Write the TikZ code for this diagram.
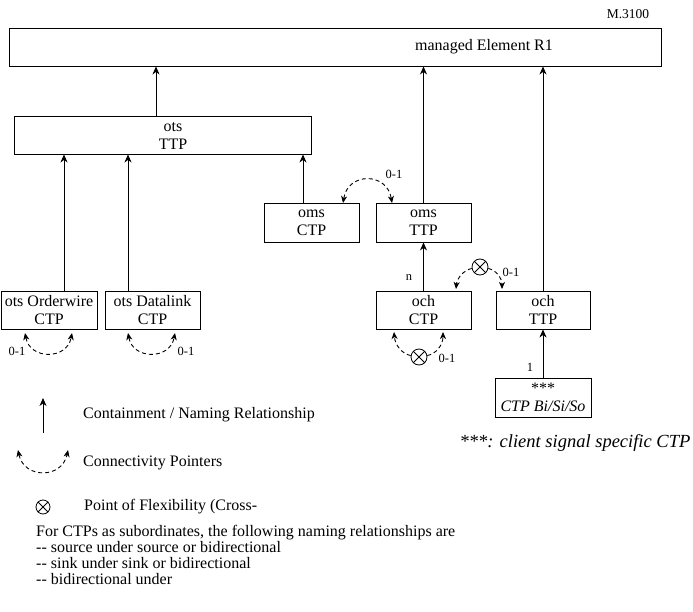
\documentclass[tikz,border=0pt]{standalone}
\usepackage{fontspec}
\setmainfont{Liberation Serif}
\usetikzlibrary{arrows.meta}
\newcommand{\fsz}[2]{\fontsize{#1}{#2}\selectfont}
\begin{document}
\begin{tikzpicture}[x=1pt,y=-1pt,
  box/.style={draw,line width=0.9pt,inner sep=0pt,align=center,font=\fsz{16}{18}},
  boxtext/.style={inner sep=0pt,align=center,font=\fsz{16}{18}},
  cont/.style={line width=0.9pt,-{Stealth[length=8pt,width=7pt,inset=2.5pt]}},
  conn/.style={line width=0.9pt,dash pattern=on 4pt off 3pt,{Stealth[length=7pt,width=6pt,inset=2pt]}-{Stealth[length=7pt,width=6pt,inset=2pt]}},
  conn1/.style={line width=0.9pt,dash pattern=on 4pt off 3pt,-{Stealth[length=7pt,width=6pt,inset=2pt]}},
  pof/.style={circle,draw,line width=0.8pt,minimum size=16pt,inner sep=0pt},
  lbl/.style={font=\fsz{12.5}{14},inner sep=0pt},
  txt/.style={font=\fsz{16}{18},inner sep=0pt,anchor=west}
]
\useasboundingbox (0,0) rectangle (693,612);

% boxes
\node[box,minimum width=652pt,minimum height=38pt] (me) at (335,47) {};
\node[boxtext] (metxt) at (484,47) {managed Element R1};
\node[box,minimum width=297pt,minimum height=38pt] (ottp) at (162.5,135) {};
\node[boxtext] (ottpt) at (173,136) {ots\\TTP};
\node[box,minimum width=96pt,minimum height=38pt] (ow) at (49,310) {ots Orderwire\\CTP};
\node[box,minimum width=95pt,minimum height=38pt] (dl) at (152.5,310) {ots Datalink\\CTP};
\node[box,minimum width=95pt,minimum height=39pt] (omsc) at (311.5,222.5) {oms\\CTP};
\node[box,minimum width=95pt,minimum height=39pt] (omst) at (423.5,222.5) {oms\\TTP};
\node[box,minimum width=95pt,minimum height=38pt] (ochc) at (423.5,310) {och\\CTP};
\node[box,minimum width=94pt,minimum height=38pt] (ocht) at (543,310) {och\\TTP};
\node[box,minimum width=96pt,minimum height=39pt] (cli) at (543,397.5) {***\\\textit{CTP Bi/Si/So}};

% containment arrows
\draw[cont] (ottp.north -| 156,0) -- (me.south -| 156,0);
\draw[cont] (ow.north -| 64,0) -- (ottp.south -| 64,0);
\draw[cont] (dl.north -| 128,0) -- (ottp.south -| 128,0);
\draw[cont] (omsc.north -| 303,0) -- (ottp.south -| 303,0);
\draw[cont] (omst.north) -- (me.south -| omst.north);
\draw[cont] (ochc.north) -- (omst.south);
\draw[cont] (ocht.north) -- (me.south -| ocht.north);
\draw[cont] (cli.north) -- (ocht.south);
\node[lbl] (ln) at (409,278) {n};
\node[lbl] (l1) at (530,367) {1};

% connectivity pointers
\coordinate (oa) at (343,203);
\coordinate (ob) at (392,203);
\draw[conn] (oa) .. controls (348,172) and (387,172) .. (ob);
\node[lbl] (l01a) at (394,174) {0-1};

\coordinate (wa) at (25,333);
\coordinate (wb) at (72,333);
\draw[conn] (wa) .. controls (30,360) and (67,360) .. (wb);
\node[lbl] (l01b) at (17,351) {0-1};

\coordinate (da) at (128,333);
\coordinate (db) at (175,333);
\draw[conn] (da) .. controls (133,360) and (170,360) .. (db);
\node[lbl] (l01c) at (186,351) {0-1};

\node[pof] (x1) at (480,267) {};
\draw[line width=0.8pt] (x1.north west) -- (x1.south east) (x1.north east) -- (x1.south west);
\coordinate (xa) at (456,289);
\coordinate (xb) at (502,289);
\draw[conn1] (x1.190) .. controls (464,270) and (457,278) .. (xa);
\draw[conn1] (x1.350) .. controls (496,270) and (502,278) .. (xb);
\node[lbl] (l01d) at (511,272) {0-1};

\node[pof] (x2) at (419,357) {};
\draw[line width=0.8pt] (x2.north west) -- (x2.south east) (x2.north east) -- (x2.south west);
\coordinate (ya) at (394,332);
\coordinate (yb) at (443,332);
\draw[conn1] (x2.170) .. controls (402,354) and (395,345) .. (ya);
\draw[conn1] (x2.10) .. controls (436,354) and (443,345) .. (yb);
\node[lbl] (l01e) at (447,358) {0-1};

% top label
\node[font=\fsz{13.5}{15},inner sep=0pt] (m3100) at (628,14) {M.3100};

% client signal note
\node[font=\fsz{18.5}{20}\itshape,inner sep=0pt] (note) at (575,443) {***: client signal specific CTP};

% legend
\coordinate (lga) at (43,433);
\coordinate (lgb) at (43,398);
\draw[cont] (lga) -- (lgb);
\node[txt] (lt1) at (83,415) {Containment / Naming Relationship};
\coordinate (lc1) at (18,450);
\coordinate (lc2) at (68,450);
\draw[conn] (lc1) .. controls (24,479) and (62,479) .. (lc2);
\node[txt] (lt2) at (83,463) {Connectivity Pointers};
\node[pof,minimum size=14pt] (x3) at (43,507) {};
\draw[line width=0.8pt] (x3.north west) -- (x3.south east) (x3.north east) -- (x3.south west);
\node[txt] (lt3) at (84,507) {Point of Flexibility (Cross-};

\node[font=\fsz{16}{16},inner sep=0pt,anchor=north west,align=left] (para) at (36,525)
 {For CTPs as subordinates, the following naming relationships are\\
  -{}- source under source or bidirectional\\
  -{}- sink under sink or bidirectional\\
  -{}- bidirectional under};
\end{tikzpicture}
\end{document}
